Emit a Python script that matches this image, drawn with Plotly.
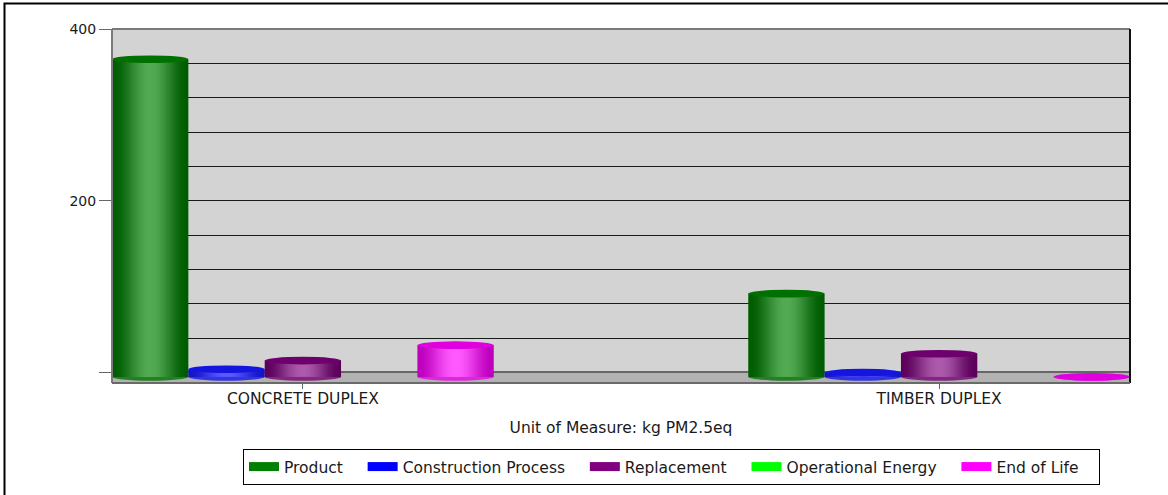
import math
import plotly.graph_objects as go

# ---------------- data ----------------
categories = ["CONCRETE DUPLEX", "TIMBER DUPLEX"]
series_names = ["Product", "Construction Process", "Replacement",
                "Operational Energy", "End of Life"]
product = [370, 97]
construction_process = [9, 5]
replacement = [19, 27]
operational_energy = [None, None]
end_of_life = [37, 0]
y_tick_values = [0, 200, 400]
y_tick_labels = ["", "200", "400"]
x_title = "Unit of Measure: kg PM2.5eq"

series_values = [product, construction_process, replacement,
                 operational_energy, end_of_life]

# ---------------- styles ----------------
legend_colors = ["#008000", "#0000ff", "#800080", "#00ff00", "#ff00ff"]
dark_rgb = [(0, 92, 0), (20, 20, 200), (92, 0, 92), (0, 190, 0), (190, 0, 190)]
light_rgb = [(82, 170, 82), (90, 90, 255), (172, 90, 172), (120, 255, 120), (255, 90, 255)]
cap_colors = ["#007000", "#1515e0", "#6e006e", "#00d000", "#e000e0"]

FONT = "DejaVu Sans"
TEXT_SIZE = 15.5
W, H = 1168, 495
ML, MR, MT, MB = 112, 38, 29, 112
plot_w = W - ML - MR
plot_h = H - MT - MB
Y_MIN, Y_MAX = -12.3, 400
X_MIN, X_MAX = -0.3, 1.3
px_per_unit = plot_h / (Y_MAX - Y_MIN)
BASE = -5.2                      # depth offset of cylinders on the floor
CAP_HALF = 3.8 / px_per_unit     # half height of the elliptical caps
GROUP = 0.6
bar_w = GROUP / len(series_names)
N_STRIPS = 36
LEGEND_PAD = "\u00a0\u00a0\u00a0"
LEGEND_TOP_PX = 449
LEGEND_LEFT_PX = 243


def mix(a, b, t):
    return "rgb(%d,%d,%d)" % tuple(round(a[j] + (b[j] - a[j]) * t) for j in range(3))


fig = go.Figure()
shapes = []

# floor of the 3D chart
shapes.append(dict(type="rect", xref="paper", yref="y", x0=0, x1=1,
                   y0=Y_MIN, y1=0, fillcolor="#b2b2b2", line_width=0, layer="below"))

for i, (name, vals) in enumerate(zip(series_names, series_values)):
    off0 = -GROUP / 2 + i * bar_w
    # bottom ellipses
    for ci, v in enumerate(vals):
        if v is None:
            continue
        shapes.append(dict(type="circle", xref="x", yref="y",
                           x0=ci + off0, x1=ci + off0 + bar_w,
                           y0=BASE - CAP_HALF, y1=BASE + CAP_HALF,
                           fillcolor=mix(dark_rgb[i], light_rgb[i], 0.45),
                           line_width=0, layer="below"))
    # cylinder body as shaded strips
    sw = bar_w / N_STRIPS
    for k in range(N_STRIPS):
        t = (k + 0.5) / N_STRIPS
        s = math.sin(math.pi * t) ** 2
        fig.add_trace(go.Bar(
            x=categories, y=vals, base=BASE,
            offset=off0 + k * sw,
            width=sw * (1.6 if k < N_STRIPS - 1 else 1.0),
            marker=dict(color=mix(dark_rgb[i], light_rgb[i], s), line_width=0),
            showlegend=False, hoverinfo="skip"))
    # top caps
    for ci, v in enumerate(vals):
        if v is None:
            continue
        shapes.append(dict(type="circle", xref="x", yref="y",
                           x0=ci + off0, x1=ci + off0 + bar_w,
                           y0=BASE + v - CAP_HALF, y1=BASE + v + CAP_HALF,
                           fillcolor=cap_colors[i], line_width=0, layer="above"))

# legend entries
for name, col in zip(series_names, legend_colors):
    fig.add_trace(go.Scatter(x=[None], y=[None], mode="lines", name=name + LEGEND_PAD,
                             line=dict(color=col, width=9), hoverinfo="skip"))

# frame lines of the back wall / floor
shapes += [
    dict(type="line", xref="paper", yref="paper", x0=0, x1=1, y0=1, y1=1,
         line=dict(color="#7a7a7a", width=2), layer="above"),
    dict(type="line", xref="paper", yref="paper", x0=0, x1=0, y0=0, y1=1,
         line=dict(color="#7a7a7a", width=2), layer="above"),
    dict(type="line", xref="paper", yref="paper", x0=1, x1=1, y0=0, y1=1,
         line=dict(color="#111111", width=2), layer="above"),
    dict(type="line", xref="paper", yref="paper", x0=0, x1=1, y0=0, y1=0,
         line=dict(color="#6a6a6a", width=2), layer="above"),
]
# outer border of the image
shapes.append(dict(type="rect", xref="paper", yref="paper",
                   x0=(4.5 - ML) / plot_w, x1=(W + 3 - ML) / plot_w,
                   y0=-(H + 3 - MT - plot_h) / plot_h, y1=(plot_h + MT - 3.5) / plot_h,
                   line=dict(color="#000000", width=2), fillcolor="rgba(0,0,0,0)",
                   layer="above"))

fig.update_layout(
    width=W, height=H,
    margin=dict(l=ML, r=MR, t=MT, b=MB, autoexpand=False),
    paper_bgcolor="white", plot_bgcolor="#d3d3d3",
    barmode="overlay",
    font=dict(family=FONT, size=TEXT_SIZE, color="#1a1a1a"),
    shapes=shapes,
    showlegend=True,
    legend=dict(orientation="h", x=(LEGEND_LEFT_PX - ML) / plot_w, xanchor="left",
                y=-(LEGEND_TOP_PX - MT - plot_h) / plot_h, yanchor="top",
                bordercolor="#000000", borderwidth=1, bgcolor="white",
                font=dict(family=FONT, size=TEXT_SIZE, color="#1a1a1a")),
    xaxis=dict(type="category", range=[X_MIN, X_MAX], showgrid=False,
               zeroline=False, showline=False, ticks="outside", ticklen=5,
               tickcolor="#666666", tickfont=dict(size=TEXT_SIZE),
               title=dict(text=x_title, font=dict(size=TEXT_SIZE), standoff=15),
               fixedrange=True),
    yaxis=dict(range=[Y_MIN, Y_MAX], tickvals=y_tick_values, ticktext=y_tick_labels,
               ticks="outside", ticklen=12, tickcolor="#666666", tickwidth=1,
               showgrid=True, gridcolor="#1a1a1a", gridwidth=1,
               zeroline=True, zerolinecolor="#666666", zerolinewidth=2,
               minor=dict(dtick=40, tick0=0, showgrid=True, gridcolor="#1a1a1a",
                          gridwidth=1, ticklen=0),
               showline=False, tickfont=dict(size=14), fixedrange=True),
)

try:
    fig.update_xaxes(ticklabelstandoff=-4)
except Exception:
    pass

fig.write_html("out.html")
